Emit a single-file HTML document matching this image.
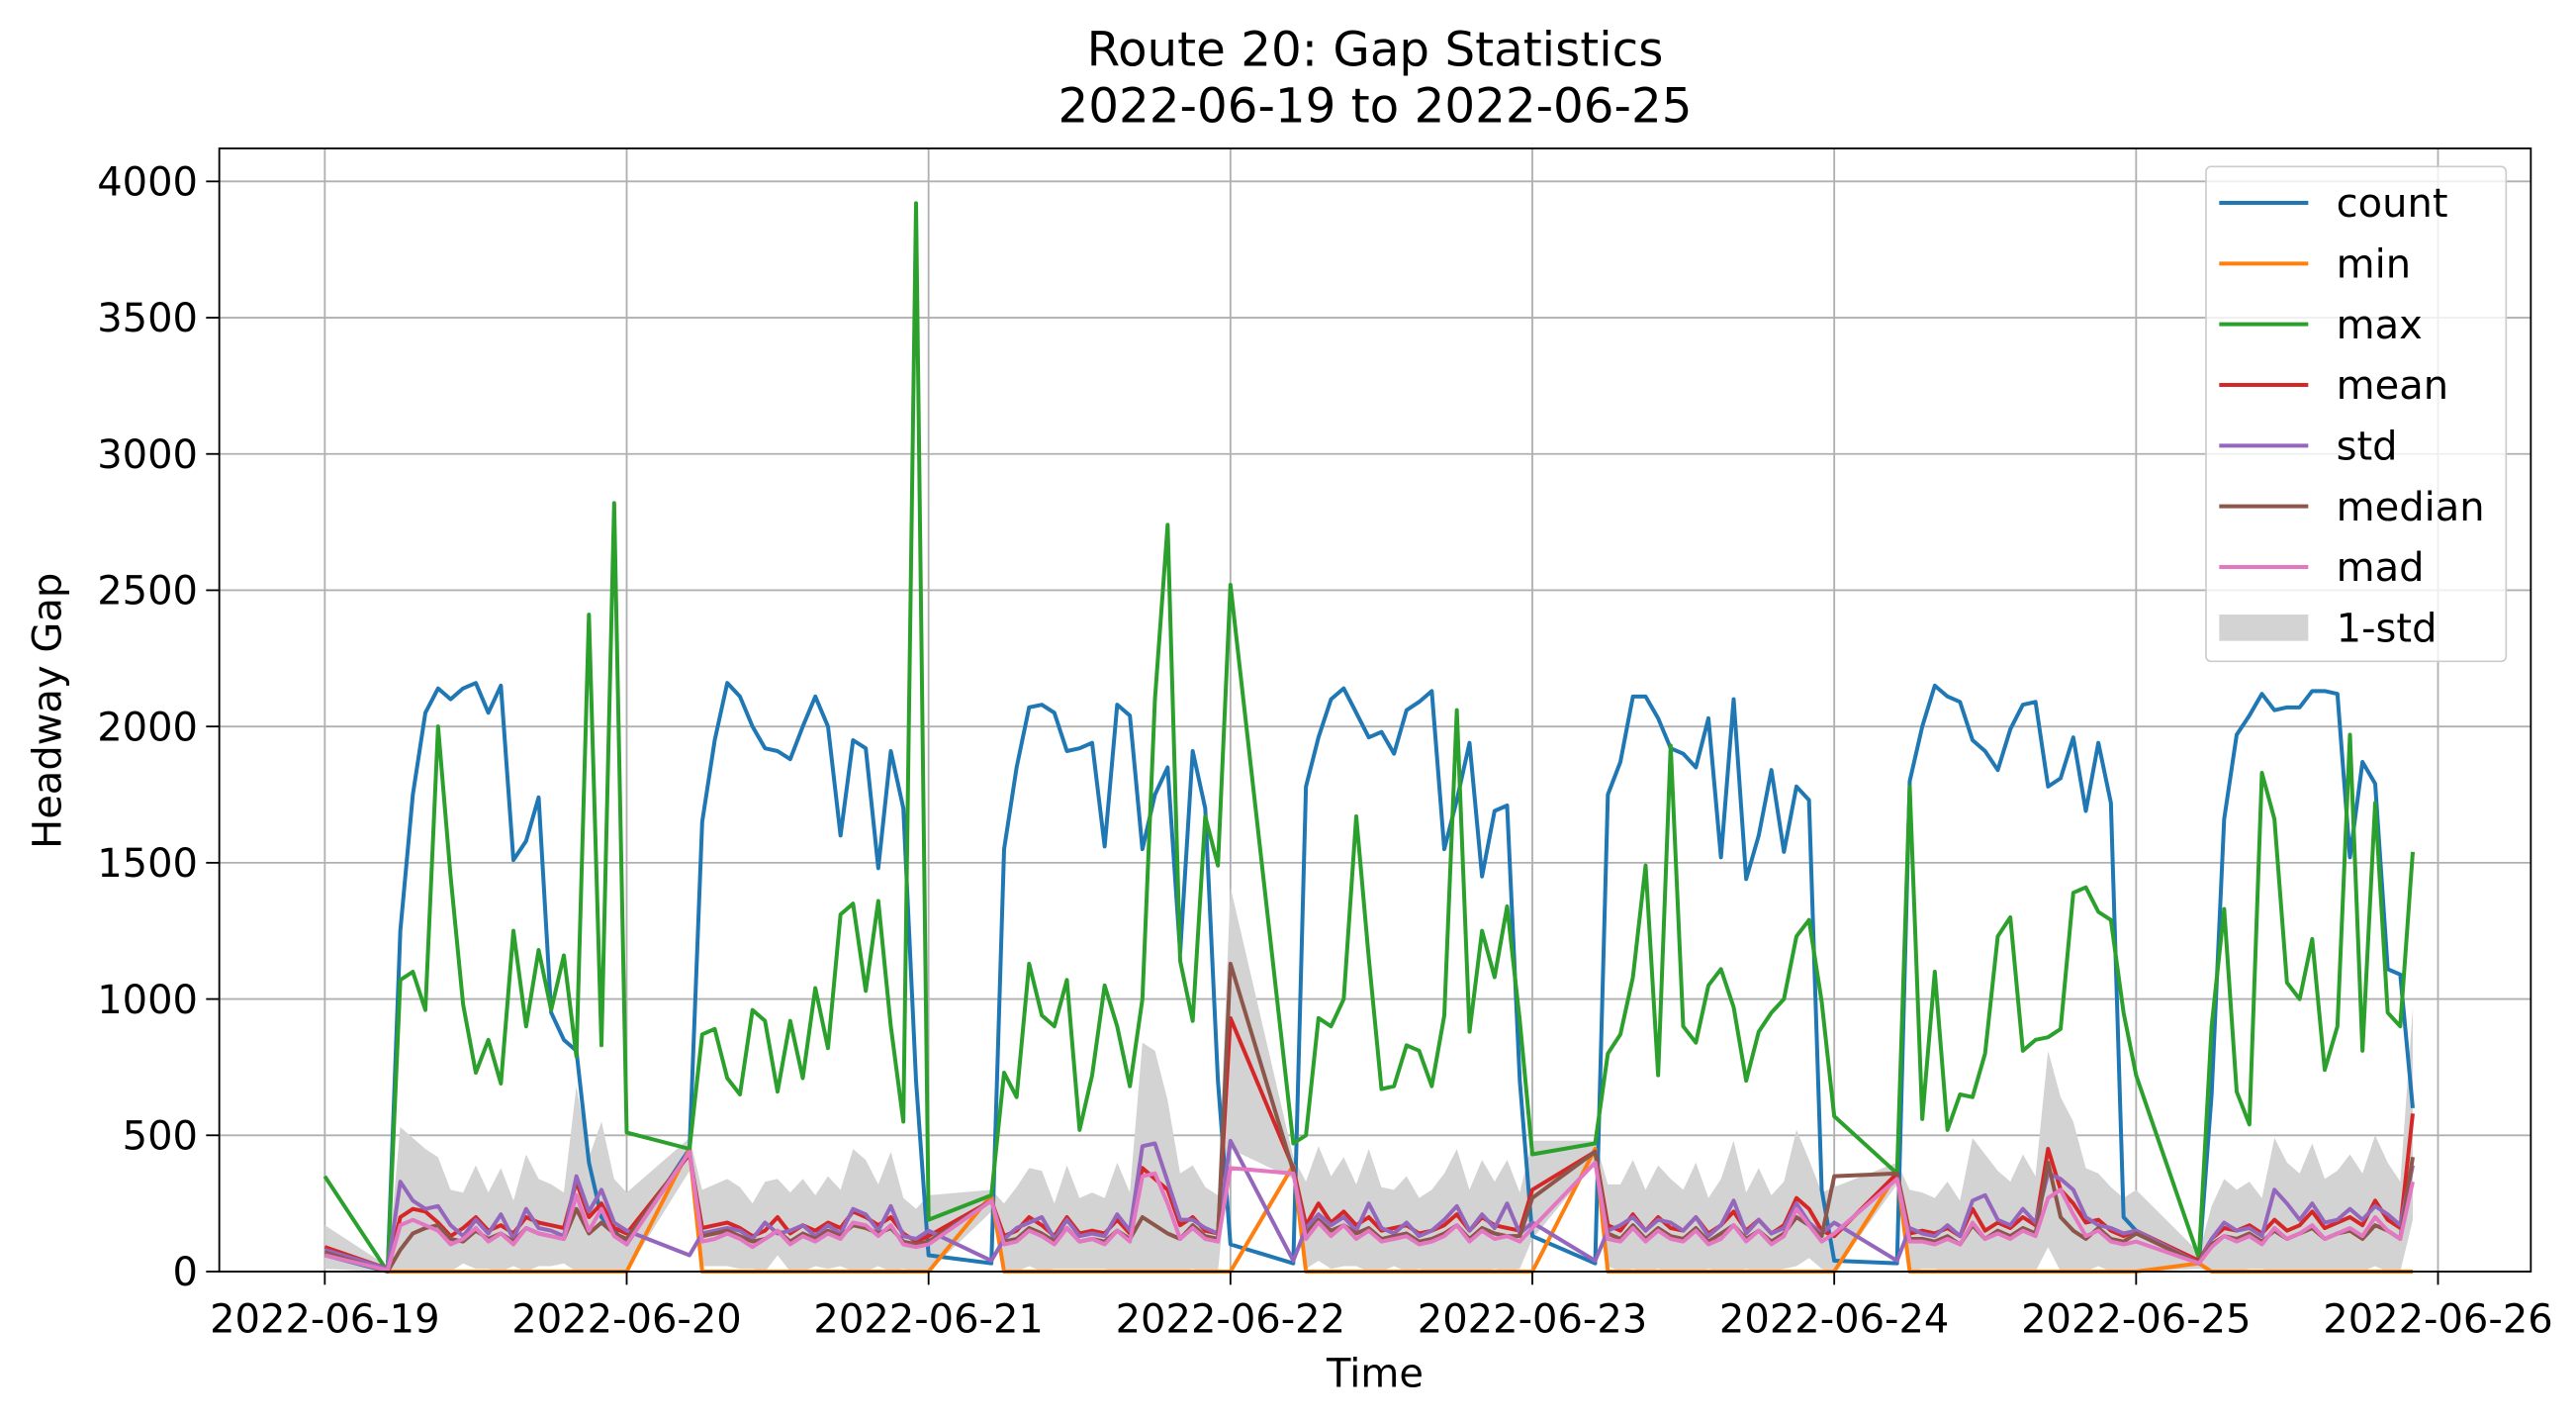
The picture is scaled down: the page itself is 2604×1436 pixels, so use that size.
<!DOCTYPE html>
<html><head><meta charset="utf-8"><style>
html,body{margin:0;padding:0;background:#fff;}
svg{display:block;font-family:"DejaVu Sans","Liberation Sans",sans-serif;}
</style></head><body>
<svg id="chart" width="2604" height="1436" viewBox="0 0 1562.4 861.6" xmlns="http://www.w3.org/2000/svg">
<rect x="0" y="0" width="1562.4" height="861.6" fill="#fff"/>
<g id="grid"></g>
<g id="band"></g>
<g id="lines"></g>
<rect x="133" y="90" width="1402" height="681" fill="none" stroke="#000" stroke-width="1.1"/>
<g id="axes"></g>
<text x="834" y="40" font-size="29" text-anchor="middle">Route 20: Gap Statistics</text>
<text x="834" y="74" font-size="29" text-anchor="middle">2022-06-19 to 2022-06-25</text>
<text x="834" y="841" font-size="24" text-anchor="middle">Time</text>
<text x="37" y="431" font-size="24" text-anchor="middle" transform="rotate(-90 37 431)">Headway Gap</text>
<g id="legend"></g>
</svg>
<script>
const NS="http://www.w3.org/2000/svg";
const xTickLabels=["2022-06-19","2022-06-20","2022-06-21","2022-06-22","2022-06-23","2022-06-24","2022-06-25","2022-06-26"];
const yTicks=[0,500,1000,1500,2000,2500,3000,3500,4000];
const dayHours=[0,5,6,7,8,9,10,11,12,13,14,15,16,17,18,19,20,21,22,23];
const countVals=[60,0,1250,1750,2050,2140,2100,2140,2160,2050,2150,1510,1580,1740,950,850,810,400,200,150,
100,450,1650,1950,2160,2110,2000,1920,1910,1880,2000,2110,2000,1600,1950,1920,1480,1910,1700,700,
60,30,1550,1850,2070,2080,2050,1910,1920,1940,1560,2080,2040,1550,1750,1850,1170,1910,1700,700,
100,30,1780,1960,2100,2140,2050,1960,1980,1900,2060,2090,2130,1550,1730,1940,1450,1690,1710,700,
130,30,1750,1870,2110,2110,2030,1920,1900,1850,2030,1520,2100,1440,1600,1840,1540,1780,1730,300,
40,30,1800,2000,2150,2110,2090,1950,1910,1840,1990,2080,2090,1780,1810,1960,1690,1940,1720,200,
150,30,650,1660,1970,2040,2120,2060,2070,2070,2130,2130,2120,1520,1870,1790,1110,1090,600];
const maxVals=[350,0,1070,1100,960,2000,1450,980,730,850,690,1250,900,1180,960,1160,790,2410,830,2820,
510,450,870,890,710,650,960,920,660,920,710,1040,820,1310,1350,1030,1360,900,550,3920,
190,280,730,640,1130,940,900,1070,520,720,1050,900,680,1000,2100,2740,1140,920,1670,1490,
2520,470,500,930,900,1000,1670,1150,670,680,830,810,680,940,2060,880,1250,1080,1340,920,
430,470,800,870,1080,1490,720,1930,900,840,1050,1110,970,700,880,950,1000,1230,1290,990,
570,360,1780,560,1100,520,650,640,800,1230,1300,810,850,860,890,1390,1410,1320,1290,950,
720,50,900,1330,660,540,1830,1660,1060,1000,1220,740,900,1970,810,1720,950,900,1540];
const minVals=[70,0,0,0,0,0,0,0,0,0,0,0,0,0,0,0,0,0,0,0,
0,450,0,0,0,0,0,0,0,0,0,0,0,0,0,0,0,0,0,0,
0,280,0,0,0,0,0,0,0,0,0,0,0,0,0,0,0,0,0,0,
0,390,0,0,0,0,0,0,0,0,0,0,0,0,0,0,0,0,0,0,
0,450,0,0,0,0,0,0,0,0,0,0,0,0,0,0,0,0,0,0,
0,360,0,0,0,0,0,0,0,0,0,0,0,0,0,0,0,0,0,0,
0,30,0,0,0,0,0,0,0,0,0,0,0,0,0,0,0,0,0];
const meanVals=[90,10,200,230,220,180,130,160,200,150,170,140,200,180,170,160,330,200,250,160,
140,430,160,170,180,160,130,150,200,140,170,150,180,160,220,200,170,200,140,110,
130,260,130,150,200,170,130,200,140,150,140,190,140,380,340,300,170,200,150,140,
930,380,170,250,180,220,170,200,150,160,170,140,150,170,210,150,200,170,160,150,
300,440,170,150,210,150,200,160,150,200,140,170,220,150,190,140,170,270,230,150,
130,360,140,150,140,160,130,230,150,180,160,200,170,450,300,250,180,190,150,130,
150,40,120,160,150,170,140,190,150,170,220,160,180,200,170,260,190,160,580];
const stdVals=[80,10,330,260,230,240,170,130,190,140,210,120,230,160,150,130,350,220,300,180,
150,60,140,150,160,150,120,180,140,150,170,130,170,140,230,210,150,240,130,120,
150,40,120,160,180,200,120,190,130,140,130,210,150,460,470,330,190,190,160,140,
480,40,160,210,170,200,150,250,160,140,180,130,150,190,240,150,210,160,250,140,
180,40,150,170,200,150,190,180,150,200,130,170,260,140,190,140,160,250,180,140,
180,40,160,140,130,170,130,260,280,190,170,230,180,360,340,300,200,170,160,140,
150,30,120,180,150,160,130,300,250,190,250,180,190,230,190,240,210,170,390];
const medianVals=[70,0,80,140,160,170,120,110,150,120,140,110,160,140,130,120,230,140,180,140,
120,440,130,140,150,130,110,120,150,110,140,120,150,130,170,160,140,160,110,100,
110,260,110,120,160,140,110,160,110,120,110,150,120,200,170,140,120,170,130,120,
1130,370,140,190,150,170,140,160,120,130,140,110,120,140,170,120,160,140,130,130,
270,440,140,120,170,120,160,130,120,160,110,140,170,120,150,110,140,200,170,130,
350,360,120,120,110,130,100,170,120,150,130,160,140,400,200,150,120,160,120,110,
140,30,100,130,120,140,110,150,120,140,160,120,140,150,120,170,150,120,420];
const madVals=[60,5,170,190,170,150,100,120,160,110,140,100,160,140,130,120,280,150,230,130,
100,440,110,120,140,120,90,120,150,100,130,110,140,120,180,170,130,170,100,90,
100,260,100,110,150,130,100,160,110,120,100,150,110,350,360,250,120,160,120,110,
380,360,120,180,130,170,120,150,110,120,130,100,110,130,170,110,150,120,130,110,
160,400,120,110,160,110,150,120,110,150,100,120,170,110,150,100,130,230,170,110,
140,340,110,110,100,120,100,180,120,140,120,150,130,270,300,210,130,150,110,100,
110,30,90,130,110,130,100,160,120,140,170,120,140,160,130,200,150,120,330];

const X0=197,DAYW=183.1,Y0=771,YS=661/4000;
const times=[];
for(let d=0;d<7;d++){for(const h of dayHours){if(times.length<countVals.length)times.push(d*24+h);}}
const xs=t=>X0+t/24*DAYW;
const ys=v=>Y0-v*YS;
function el(tag,attrs,parent){const e=document.createElementNS(NS,tag);for(const k in attrs)e.setAttribute(k,attrs[k]);parent.appendChild(e);return e;}

const grid=document.getElementById('grid'),axes=document.getElementById('axes');
xTickLabels.forEach((lab,i)=>{
  const x=X0+i*DAYW;
  const g=el('line',{x1:x,x2:x,y1:90,y2:771,stroke:'#b0b0b0','stroke-width':1.1},grid);
  
  
  const t=el('line',{x1:x,x2:x,y1:771,y2:779,stroke:'#000','stroke-width':1.1},axes);
  
  
  const tx=el('text',{x:x,y:808,'font-size':24,'text-anchor':'middle'},axes);
  tx.textContent=lab;
  
  
});
yTicks.forEach(v=>{
  const y=ys(v);
  const g=el('line',{x1:133,x2:1535,y1:y,y2:y,stroke:'#b0b0b0','stroke-width':1.1},grid);
  
  
  const t=el('line',{x1:125,x2:133,y1:y,y2:y,stroke:'#000','stroke-width':1.1},axes);
  
  
  const tx=el('text',{x:120,y:y+8.5,'font-size':24,'text-anchor':'end'},axes);
  tx.textContent=String(v);
  
  
});

const band=document.getElementById('band');
let up=[],dn=[];
for(let i=0;i<times.length;i++){const hi=meanVals[i]+stdVals[i],lo=Math.max(0,meanVals[i]-stdVals[i]);up.push(xs(times[i])+','+ys(hi));dn.unshift(xs(times[i])+','+ys(lo));}
const bp=el('polygon',{points:up.concat(dn).join(' '),fill:'#d3d3d3',stroke:'none'},band);



const series=[["count",countVals,"#1f77b4"],["min",minVals,"#ff7f0e"],["max",maxVals,"#2ca02c"],["mean",meanVals,"#d62728"],["std",stdVals,"#9467bd"],["median",medianVals,"#8c564b"],["mad",madVals,"#e377c2"]];
const lines=document.getElementById('lines');
series.forEach(([name,vals,col])=>{
  const pts=vals.map((v,i)=>xs(times[i]).toFixed(1)+','+ys(v).toFixed(1)).join(' ');
  const p=el('polyline',{points:pts,fill:'none',stroke:col,'stroke-width':2.4,'stroke-linejoin':'round'},lines);
  
  
});

const lg=document.getElementById('legend');
const box=el('rect',{x:1338,y:101,width:182,height:300,rx:3,fill:'#fff','fill-opacity':0.8,stroke:'#ccc','stroke-width':1},lg);


const entries=series.map(s=>[s[0],s[2]]).concat([["1-std",null]]);
entries.forEach(([name,col],i)=>{
  const y=123+i*36.8;
  let m;
  if(col){m=el('line',{x1:1346,x2:1400,y1:y,y2:y,stroke:col,'stroke-width':2.4},lg);}
  else{m=el('rect',{x:1346,y:y-8,width:54,height:16,fill:'#d3d3d3'},lg);}
  
  
  const t=el('text',{x:1417,y:y+8.5,'font-size':24},lg);
  t.textContent=name;
  
  
});
</script>
</body></html>
